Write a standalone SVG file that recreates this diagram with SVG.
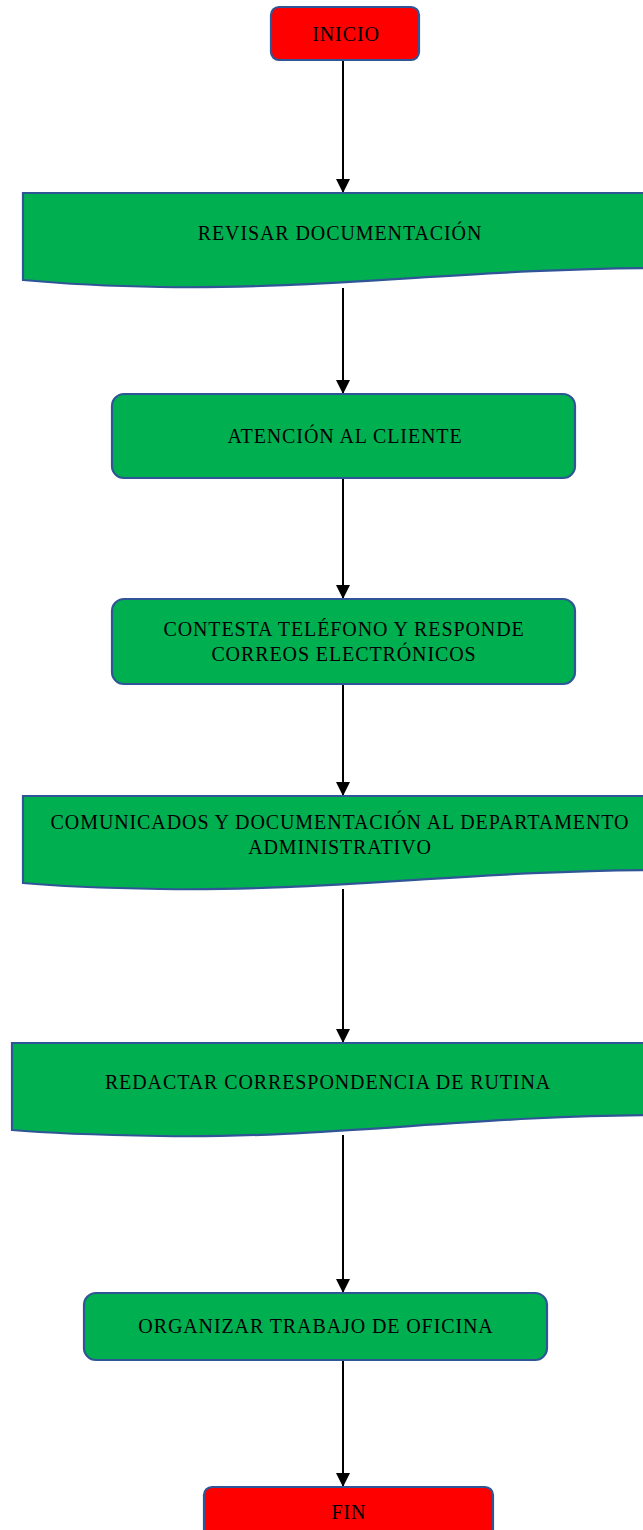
<svg xmlns="http://www.w3.org/2000/svg" width="643" height="1530" viewBox="0 0 643 1530">
  <style>
    .term { fill: #FF0000; stroke: #2F5597; stroke-width: 2.2; }
    .proc { fill: #00B050; stroke: #2F5597; stroke-width: 2.2; }
    .lbl { font-family: "Liberation Serif", "Times New Roman", serif; font-size: 20px; letter-spacing: 0.9px; fill: #000; text-anchor: middle; }
    .edge { stroke: #000; stroke-width: 2; fill: none; marker-end: url(#arrow); }
  </style>
  <defs>
    <marker id="arrow" viewBox="0 0 14 14" refX="14" refY="7" markerWidth="14" markerHeight="14" markerUnits="userSpaceOnUse" orient="auto">
      <path d="M0,0 L14,7 L0,14 Z" fill="#000"/>
    </marker>
  </defs>
  <rect width="643" height="1530" fill="#fff"/>

  <g id="connectors">
    <line class="edge" x1="343" y1="60" x2="343" y2="193"/>
    <line class="edge" x1="343" y1="288" x2="343" y2="394"/>
    <line class="edge" x1="343" y1="478" x2="343" y2="599"/>
    <line class="edge" x1="343" y1="684" x2="343" y2="796"/>
    <line class="edge" x1="343" y1="889" x2="343" y2="1043"/>
    <line class="edge" x1="343" y1="1135" x2="343" y2="1293"/>
    <line class="edge" x1="343" y1="1360" x2="343" y2="1487"/>
  </g>

  <g id="inicio">
    <rect class="term" x="271" y="7" width="148" height="53" rx="8"/>
    <text class="lbl" x="346" y="41">INICIO</text>
  </g>

  <g id="revisar">
    <path class="proc" d="M23,193 H660 V268 C480,268 320,290 160,287 C100,286 55,283 23,280 Z"/>
    <text class="lbl" x="340" y="240">REVISAR DOCUMENTACIÓN</text>
  </g>

  <g id="atencion">
    <rect class="proc" x="112" y="394" width="463" height="84" rx="12"/>
    <text class="lbl" x="345" y="443">ATENCIÓN AL CLIENTE</text>
  </g>

  <g id="contesta">
    <rect class="proc" x="112" y="599" width="463" height="85" rx="12"/>
    <text class="lbl" x="344" y="636">CONTESTA TELÉFONO Y RESPONDE</text>
    <text class="lbl" x="344" y="661">CORREOS ELECTRÓNICOS</text>
  </g>

  <g id="comunicados">
    <path class="proc" d="M23,796 H660 V870 C480,870 320,892 160,889 C100,888 55,886 23,883 Z"/>
    <text class="lbl" x="340" y="829">COMUNICADOS Y DOCUMENTACIÓN AL DEPARTAMENTO</text>
    <text class="lbl" x="340" y="854">ADMINISTRATIVO</text>
  </g>

  <g id="redactar">
    <path class="proc" d="M12,1043 H660 V1115 C480,1115 320,1139 160,1136 C100,1135 45,1133 12,1130 Z"/>
    <text class="lbl" x="328" y="1089">REDACTAR CORRESPONDENCIA DE RUTINA</text>
  </g>

  <g id="organizar">
    <rect class="proc" x="84" y="1293" width="463" height="67" rx="12"/>
    <text class="lbl" x="316" y="1333">ORGANIZAR TRABAJO DE OFICINA</text>
  </g>

  <g id="fin">
    <rect class="term" x="204" y="1487" width="289" height="60" rx="8"/>
    <text class="lbl" x="349" y="1519">FIN</text>
  </g>
</svg>
